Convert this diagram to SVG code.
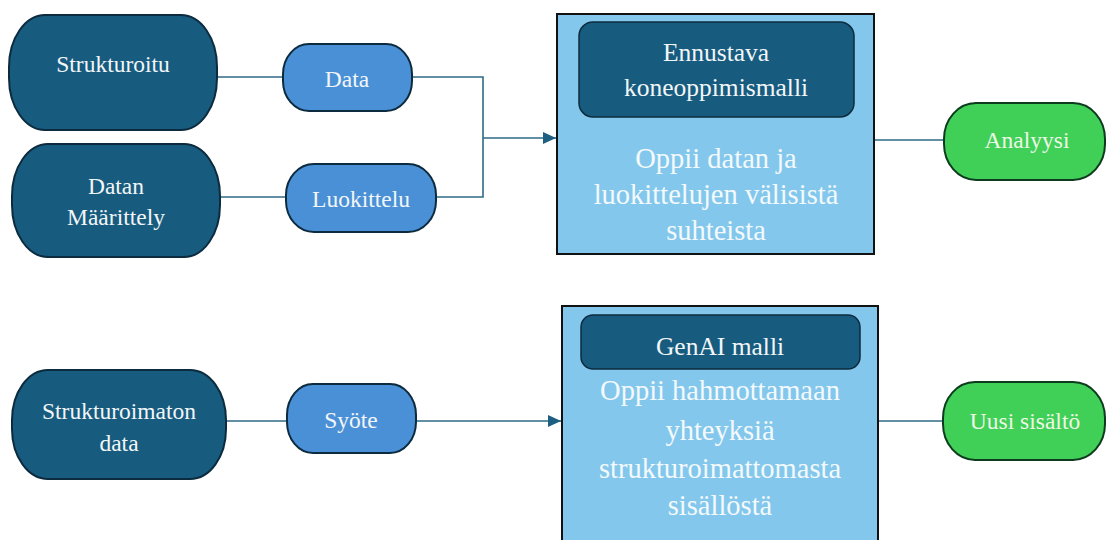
<svg xmlns="http://www.w3.org/2000/svg" width="1107" height="540" viewBox="0 0 1107 540">
<style>
.dark{fill:#175b7f;stroke:#0d2b3e;stroke-width:2}
.light{fill:#4a90d6;stroke:#0d2b3e;stroke-width:2}
.green{fill:#40cf57;stroke:#0d3b1e;stroke-width:2}
.box{fill:#83c8ec;stroke:#111;stroke-width:2}
.inner{fill:#175b7f;stroke:#0d2b3e;stroke-width:1.5}
text{font-family:'Liberation Serif','Times New Roman','DejaVu Serif',serif;text-anchor:middle;fill:#f2f6f8}
.s{font-size:23.5px}
.m{font-size:25.5px}
.b{font-size:28.5px;fill:#f4f9fc}
.g{fill:#eef8e6}
.c{fill:none;stroke:#2e6a84;stroke-width:1.6}
</style>
<defs>
<marker id="arr" markerWidth="14" markerHeight="14" refX="13" refY="7" orient="auto" markerUnits="userSpaceOnUse">
<path d="M0,1 L13,7 L0,13 Z" fill="#1d5f82"/>
</marker>
</defs>
<rect width="1107" height="540" fill="#fff"/>
<g id="connectors">
<line class="c" x1="217" y1="77" x2="283" y2="77"/>
<line class="c" x1="220" y1="197" x2="286" y2="197"/>
<polyline class="c" points="412,77 483,77 483,197 436,197"/>
<line class="c" x1="483" y1="138" x2="556" y2="138" marker-end="url(#arr)"/>
<line class="c" x1="874" y1="140" x2="944" y2="140"/>
<line class="c" x1="226" y1="421" x2="287" y2="421"/>
<line class="c" x1="416" y1="421" x2="561" y2="421" marker-end="url(#arr)"/>
<line class="c" x1="878" y1="421" x2="943" y2="421"/>
</g>
<g font-family="Liberation Serif, Times New Roman, serif">
<g id="strukturoitu">
<rect class="dark" x="9" y="15" width="208" height="115" rx="36" ry="52"/>
<text class="s" x="113" y="72">Strukturoitu</text>
</g>
<g id="datan-maarittely">
<rect class="dark" x="12" y="144" width="208" height="113" rx="36" ry="52"/>
<text class="s" x="116" y="194">Datan</text>
<text class="s" x="116" y="225">Määrittely</text>
</g>
<g id="data">
<rect class="light" x="283" y="44" width="129" height="67" rx="26" ry="30"/>
<text class="s" x="347" y="87">Data</text>
</g>
<g id="luokittelu">
<rect class="light" x="286" y="164" width="150" height="68" rx="28" ry="31"/>
<text class="s" x="361" y="207">Luokittelu</text>
</g>
<g id="ennustava">
<rect class="box" x="557" y="14" width="317" height="240"/>
<rect class="inner" x="579" y="22" width="275" height="95" rx="14" ry="14"/>
<text class="m" x="716" y="61">Ennustava</text>
<text class="m" x="716" y="96">koneoppimismalli</text>
<text class="b" x="716" y="168">Oppii datan ja</text>
<text class="b" x="716" y="204">luokittelujen välisistä</text>
<text class="b" x="716" y="240">suhteista</text>
</g>
<g id="analyysi">
<rect class="green" x="944" y="103" width="161" height="77" rx="32" ry="36"/>
<text class="s g" x="1027" y="148">Analyysi</text>
</g>
<g id="strukturoimaton">
<rect class="dark" x="12" y="370" width="214" height="109" rx="36" ry="50"/>
<text class="s" x="119" y="419">Strukturoimaton</text>
<text class="s" x="119" y="451">data</text>
</g>
<g id="syote">
<rect class="light" x="287" y="384" width="129" height="69" rx="26" ry="31"/>
<text class="s" x="351" y="428">Syöte</text>
</g>
<g id="genai">
<rect class="box" x="562" y="306" width="316" height="245"/>
<rect class="inner" x="581" y="315" width="279" height="54" rx="12" ry="12"/>
<text class="m" x="720" y="355">GenAI malli</text>
<text class="b" x="720" y="400">Oppii hahmottamaan</text>
<text class="b" x="720" y="440">yhteyksiä</text>
<text class="b" x="720" y="478">strukturoimattomasta</text>
<text class="b" x="720" y="515">sisällöstä</text>
</g>
<g id="uusi-sisalto">
<rect class="green" x="943" y="382" width="162" height="78" rx="32" ry="36"/>
<text class="s g" x="1025" y="429">Uusi sisältö</text>
</g>
</g>
</svg>
